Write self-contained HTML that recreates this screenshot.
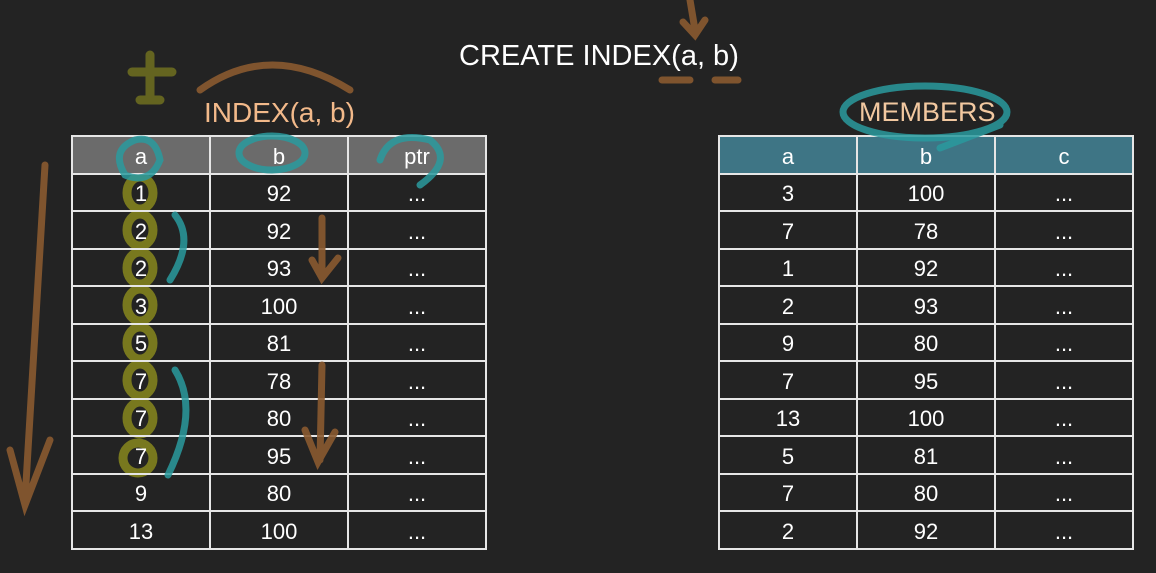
<!DOCTYPE html>
<html><head><style>
body{margin:0;width:1156px;height:573px;background:#232323;overflow:hidden;position:relative;font-family:"Liberation Sans",sans-serif;color:#fff}
table{position:absolute;border-collapse:collapse;top:135px;width:416px;table-layout:fixed}
td{border:2px solid #e6e6e6;height:35.5px;text-align:center;font-size:22px;padding:4px 0 0 0;box-sizing:border-box;vertical-align:middle}
td{height:37.5px}
.l tr.h td{background:rgba(120,120,120,0.85)}
.r tr.h td{background:#3e7585}
.t{position:absolute}
svg{position:absolute;left:0;top:0}
</style></head><body>
<svg width="1156" height="573" fill="none" stroke-linecap="round">
<g stroke="#7d7d1e" stroke-width="9" opacity="0.95">
<ellipse cx="140" cy="193" rx="13" ry="16"/><ellipse cx="140" cy="230" rx="13" ry="16"/>
<ellipse cx="140" cy="268" rx="13" ry="16"/><ellipse cx="140" cy="305" rx="13" ry="16"/>
<ellipse cx="140" cy="343" rx="13" ry="16"/><ellipse cx="140" cy="380" rx="13" ry="16"/>
<ellipse cx="140" cy="418" rx="13" ry="16"/><ellipse cx="138" cy="458" rx="15" ry="15"/>
</g>
</svg>
<div class="t" style="left:459px;top:40px;font-size:29px">CREATE INDEX(a, b)</div>
<div class="t" style="left:204px;top:97px;font-size:28px;color:#f2b98a">INDEX(a, b)</div>
<div class="t" style="left:859px;top:97px;font-size:27px;color:#f2c8a0">MEMBERS</div>
<table class="l" style="left:71px">
<tr class="h"><td>a</td><td>b</td><td>ptr</td></tr>
<tr><td>1</td><td>92</td><td>...</td></tr>
<tr><td>2</td><td>92</td><td>...</td></tr>
<tr><td>2</td><td>93</td><td>...</td></tr>
<tr><td>3</td><td>100</td><td>...</td></tr>
<tr><td>5</td><td>81</td><td>...</td></tr>
<tr><td>7</td><td>78</td><td>...</td></tr>
<tr><td>7</td><td>80</td><td>...</td></tr>
<tr><td>7</td><td>95</td><td>...</td></tr>
<tr><td>9</td><td>80</td><td>...</td></tr>
<tr><td>13</td><td>100</td><td>...</td></tr>
</table>
<table class="r" style="left:718px">
<tr class="h"><td>a</td><td>b</td><td>c</td></tr>
<tr><td>3</td><td>100</td><td>...</td></tr>
<tr><td>7</td><td>78</td><td>...</td></tr>
<tr><td>1</td><td>92</td><td>...</td></tr>
<tr><td>2</td><td>93</td><td>...</td></tr>
<tr><td>9</td><td>80</td><td>...</td></tr>
<tr><td>7</td><td>95</td><td>...</td></tr>
<tr><td>13</td><td>100</td><td>...</td></tr>
<tr><td>5</td><td>81</td><td>...</td></tr>
<tr><td>7</td><td>80</td><td>...</td></tr>
<tr><td>2</td><td>92</td><td>...</td></tr>
</table>
<svg width="1156" height="573" fill="none" stroke-linecap="round">
<g stroke="#8a5a30" stroke-width="7" opacity="0.9">
<path d="M200 90 Q270 40 350 90"/>
<path d="M690 0 L695 30 M683 22 L695 35 L705 20"/>
<path d="M662 80 L690 80 M715 80 L738 80"/>
<path d="M45 165 L25 500 M10 450 L25 505 L50 440"/>
<path d="M322 218 L322 275 M312 260 L322 278 L338 258"/>
<path d="M322 365 L320 460 M305 430 L318 462 L335 432"/>
</g>
<g stroke="#6b6b20" stroke-width="9" opacity="0.9">
<path d="M150 55 L150 100 M132 72 L172 72 M140 100 L160 100"/>
</g>
<g stroke="#2a9a9e" stroke-width="7" opacity="0.85">
<path d="M135 140 Q110 150 125 175 Q150 185 160 160 Q155 135 135 140"/>
<ellipse cx="272" cy="153" rx="33" ry="17"/>
<path d="M380 160 Q390 130 430 140 Q455 160 420 185"/>
<path d="M175 215 Q195 240 170 280"/>
<path d="M175 370 Q200 410 168 475"/>
<ellipse cx="925" cy="112" rx="82" ry="26"/>
<path d="M940 148 L1000 125"/>
</g>
</svg>
</body></html>
